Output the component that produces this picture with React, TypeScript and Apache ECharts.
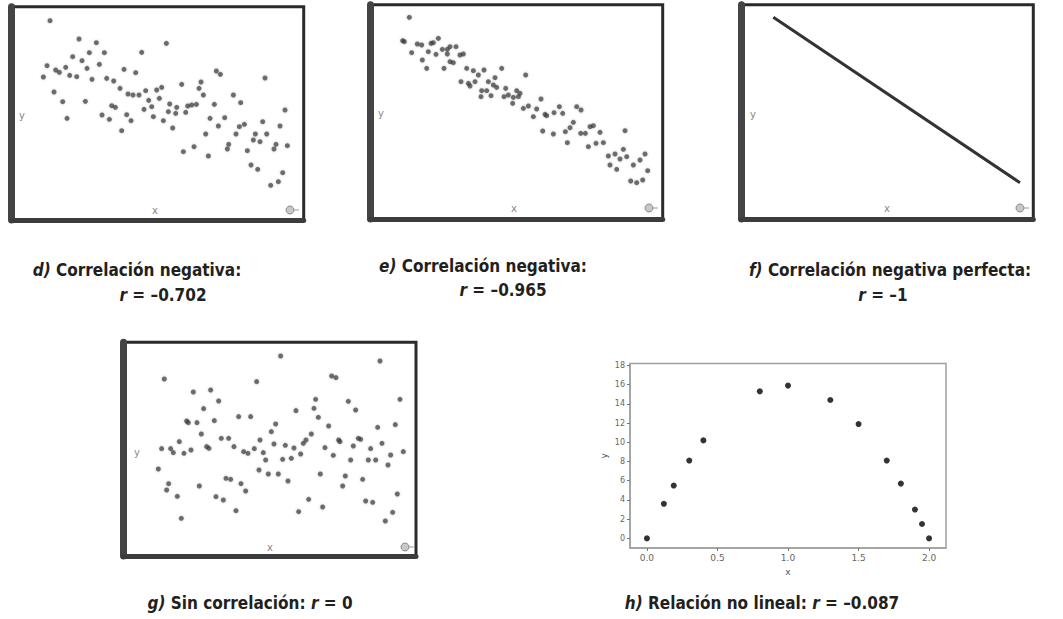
import React, { useEffect, useRef } from "react";
import * as echarts from "echarts";

// ---- Data (arbitrary units) ----
const dX = [15.0, 23.7, 28.9, 49.9, 42.5, 26.8, 31.3, 21.8, 24.6, 14.1, 19.7, 29.8, 26.1, 16.7, 17.8, 37.2, 40.7, 13.0, 20.9, 23.0, 27.6, 32.0, 34.1, 64.9, 66.1, 60.3, 54.5, 79.5, 16.2, 36.0, 38.4, 39.9, 41.7, 43.7, 47.0, 48.5, 59.7, 61.0, 18.8, 25.6, 44.6, 47.8, 33.5, 34.6, 43.2, 45.5, 50.9, 53.0, 56.3, 57.5, 58.9, 64.3, 70.0, 72.2, 50.5, 52.7, 55.7, 30.6, 38.0, 20.1, 32.8, 39.3, 46.0, 49.0, 63.0, 67.4, 78.8, 85.5, 36.5, 51.8, 65.5, 71.8, 73.3, 84.0, 61.7, 70.8, 76.6, 80.0, 76.0, 78.0, 68.6, 82.8, 86.2, 58.2, 55.0, 62.5, 68.2, 74.2, 82.2, 75.3, 77.3, 84.8, 83.5, 81.2];
const dY = [63.8, 58.3, 57.2, 57.0, 54.3, 54.2, 54.2, 53.0, 51.8, 50.3, 49.8, 50.7, 49.5, 49.0, 48.3, 49.2, 48.2, 46.9, 47.4, 47.0, 46.2, 46.5, 45.7, 48.7, 47.7, 45.4, 44.7, 46.6, 42.4, 43.5, 41.8, 41.5, 41.5, 42.8, 43.0, 43.8, 43.5, 41.5, 39.5, 39.6, 39.9, 40.5, 38.3, 37.8, 37.2, 38.0, 38.8, 37.8, 38.2, 38.5, 38.7, 38.7, 41.5, 39.2, 36.5, 36.0, 36.3, 35.5, 35.6, 34.5, 34.2, 33.8, 35.0, 33.8, 34.5, 34.7, 33.5, 37.0, 30.8, 31.6, 32.2, 32.0, 32.7, 32.2, 29.8, 29.8, 29.8, 29.8, 28.0, 27.5, 26.7, 26.7, 26.3, 26.0, 24.5, 23.2, 25.3, 24.8, 25.3, 20.5, 19.2, 18.2, 15.5, 14.4];

const eX = [14.8, 12.8, 13.3, 17.2, 18.5, 21.3, 22.0, 23.5, 24.7, 26.2, 27.0, 28.8, 15.5, 20.5, 22.8, 26.2, 30.0, 31.0, 18.7, 27.0, 28.0, 20.0, 25.2, 32.0, 34.0, 35.5, 37.2, 42.5, 49.7, 30.3, 32.5, 34.5, 38.5, 40.0, 41.0, 43.7, 40.5, 33.0, 36.5, 38.0, 47.0, 48.0, 44.5, 43.2, 46.0, 36.3, 39.3, 47.5, 45.8, 49.0, 50.5, 53.0, 54.3, 52.0, 55.5, 56.0, 58.2, 59.8, 60.8, 65.0, 66.3, 54.8, 58.0, 61.6, 63.0, 64.0, 66.2, 67.6, 69.0, 70.0, 72.0, 62.2, 68.5, 70.8, 73.0, 79.5, 74.5, 76.5, 79.0, 80.0, 85.5, 78.0, 75.0, 77.0, 82.0, 84.0, 86.3, 81.2, 83.0, 84.8];
const eY = [64.8, 57.8, 57.5, 56.8, 56.5, 57.0, 57.2, 58.5, 55.2, 55.2, 56.0, 56.0, 54.2, 54.5, 53.7, 53.8, 53.5, 53.8, 52.0, 51.5, 51.2, 49.5, 49.5, 49.5, 48.8, 47.5, 49.0, 49.5, 47.5, 45.5, 45.0, 45.5, 45.5, 44.5, 43.8, 43.5, 46.7, 44.2, 42.8, 42.8, 42.8, 42.0, 41.5, 41.0, 40.8, 41.0, 41.3, 41.0, 39.0, 37.5, 38.2, 37.3, 40.3, 35.0, 35.7, 35.3, 36.2, 38.0, 36.0, 38.0, 37.0, 30.7, 29.8, 30.5, 31.7, 33.3, 30.0, 30.0, 32.0, 32.3, 30.3, 27.2, 26.0, 27.0, 27.2, 30.8, 23.2, 23.8, 25.2, 23.0, 23.8, 22.3, 20.5, 19.2, 20.5, 22.0, 18.8, 15.7, 15.2, 16.0];

const fX = [13.0, 87.0];
const fY = [64.8, 15.2];

const gX = [51.2, 81.0, 16.3, 44.0, 66.5, 67.8, 25.0, 30.2, 32.6, 28.1, 61.7, 61.2, 71.5, 73.7, 87.0, 55.8, 62.5, 23.0, 23.5, 26.1, 31.3, 38.6, 42.2, 49.7, 48.4, 65.6, 80.3, 85.6, 27.4, 60.4, 20.8, 33.4, 35.6, 37.2, 45.0, 49.2, 52.6, 55.2, 58.0, 58.8, 68.6, 69.0, 74.5, 75.2, 73.0, 78.2, 81.6, 15.5, 18.2, 19.0, 22.2, 24.3, 29.0, 29.7, 40.1, 41.4, 43.3, 46.0, 46.7, 51.8, 54.4, 57.2, 64.5, 67.0, 72.2, 77.5, 79.7, 84.2, 88.0, 83.4, 14.5, 44.7, 47.5, 50.5, 53.4, 63.1, 70.6, 69.8, 75.8, 17.6, 17.0, 26.8, 34.8, 36.2, 39.3, 40.7, 31.8, 34.0, 20.2, 59.6, 76.7, 78.8, 86.2, 37.8, 56.6, 63.8, 84.8, 82.6, 21.4];
const gY = [66.2, 64.7, 59.3, 58.5, 60.2, 59.7, 55.4, 56.0, 52.7, 50.4, 53.2, 50.5, 52.6, 50.0, 53.2, 49.8, 47.8, 46.7, 46.2, 46.2, 46.8, 48.0, 48.0, 45.8, 43.5, 45.2, 44.8, 45.6, 42.8, 42.8, 40.5, 41.5, 41.5, 39.0, 41.0, 39.8, 39.4, 38.6, 40.0, 41.0, 41.0, 40.5, 41.5, 41.2, 39.2, 38.4, 40.0, 38.4, 38.4, 37.2, 37.0, 38.0, 39.0, 38.5, 37.5, 37.0, 38.4, 37.2, 35.0, 35.2, 35.5, 36.8, 38.7, 36.4, 35.0, 35.0, 35.0, 36.5, 37.5, 33.5, 32.3, 32.0, 30.8, 30.8, 28.7, 30.8, 30.2, 27.2, 29.2, 27.9, 26.0, 27.2, 29.5, 29.2, 27.9, 25.7, 24.0, 23.0, 24.1, 23.2, 22.7, 22.3, 24.8, 19.8, 19.5, 20.9, 19.3, 16.7, 17.5];

const hX = [0.0, 0.12, 0.19, 0.3, 0.4, 0.8, 1.0, 1.3, 1.5, 1.7, 1.8, 1.9, 1.95, 2.0];
const hY = [0.0, 3.6, 5.5, 8.1, 10.2, 15.3, 15.9, 14.4, 11.9, 8.1, 5.7, 3.0, 1.5, 0.0];
const hXTicks = [0, 0.5, 1, 1.5, 2];
const hYTicks = [0, 2, 4, 6, 8, 10, 12, 14, 16, 18];

const captionTitles = ["Correlación negativa:", "Correlación negativa:", "Correlación negativa perfecta:"];
const captionLetters = ["d)", "e)", "f)", "g)", "h)"];
const captionR = ["= –0.702", "= –0.965", "= –1", "= 0", "= –0.087"];
const captionBottom = ["Sin correlación:", "Relación no lineal:"];

const zip = (xs: number[], ys: number[]) => xs.map((x, i) => [x, ys[i]]);

// layout of the four "screenshot" panels (d, e, f, g)
const frames = [
  { left: 11.7, top: 6.7, width: 292, height: 213.3, xMin: 3.5, xMax: 91.1, yMin: 4, yMax: 68 },
  { left: 370, top: 4.7, width: 292.7, height: 214.3, xMin: 3.0, xMax: 90.8, yMin: 4.3, yMax: 68.6 },
  { left: 741, top: 4.7, width: 292.3, height: 214.3, xMin: 3.3, xMax: 91.0, yMin: 4.3, yMax: 68.6 },
  { left: 123.3, top: 342.3, width: 292.7, height: 213.7, xMin: 4.0, xMax: 91.8, yMin: 6.2, yMax: 70.3 },
];
const decor = [
  { yl: [22, 115], xl: [155, 210], c: [290, 210] },
  { yl: [381, 113], xl: [514, 208], c: [649, 208] },
  { yl: [753, 114], xl: [887, 208], c: [1020, 208] },
  { yl: [137, 452], xl: [270, 547], c: [405, 547] },
];

const FONT = "'Liberation Sans Narrow', 'DejaVu Sans Condensed', 'Noto Sans', sans-serif";

export default function App() {
  const ref = useRef<HTMLDivElement>(null);
  useEffect(() => {
    if (!ref.current) return;
    const chart = echarts.init(ref.current, undefined, { renderer: "svg" });

    const grids: any[] = [];
    const xAxes: any[] = [];
    const yAxes: any[] = [];
    const series: any[] = [];

    frames.forEach((f, i) => {
      grids.push({
        left: f.left, top: f.top, width: f.width, height: f.height,
        show: true, borderColor: "#2a2a2a", borderWidth: 3, backgroundColor: "#fff",
      });
      xAxes.push({
        gridIndex: i, type: "value", min: f.xMin, max: f.xMax,
        axisLine: { show: true, onZero: false, lineStyle: { color: "#3c3c3c", width: 5 } },
        axisTick: { show: false }, axisLabel: { show: false }, splitLine: { show: false },
      });
      yAxes.push({
        gridIndex: i, type: "value", min: f.yMin, max: f.yMax,
        axisLine: { show: true, onZero: false, lineStyle: { color: "#444", width: 7 } },
        axisTick: { show: false }, axisLabel: { show: false }, splitLine: { show: false },
      });
    });

    const dotStyle = { color: "rgba(55,55,55,0.85)", shadowBlur: 2, shadowColor: "rgba(0,0,0,0.35)" };
    series.push({ type: "scatter", xAxisIndex: 0, yAxisIndex: 0, data: zip(dX, dY), symbolSize: 5, itemStyle: dotStyle });
    series.push({ type: "scatter", xAxisIndex: 1, yAxisIndex: 1, data: zip(eX, eY), symbolSize: 5, itemStyle: dotStyle });
    series.push({
      type: "line", xAxisIndex: 2, yAxisIndex: 2, data: zip(fX, fY), symbol: "none",
      lineStyle: { color: "#333", width: 3 },
    });
    series.push({ type: "scatter", xAxisIndex: 3, yAxisIndex: 3, data: zip(gX, gY), symbolSize: 5, itemStyle: dotStyle });

    // h panel (matplotlib-like)
    grids.push({
      left: 630, top: 363.5, width: 316, height: 184.5,
      show: true, borderColor: "#a0a0a0", borderWidth: 1.5, backgroundColor: "#fff",
    });
    xAxes.push({
      gridIndex: 4, type: "value", min: -0.12, max: 2.12,
      name: "x", nameLocation: "middle", nameGap: 19,
      nameTextStyle: { color: "#555", fontSize: 9, fontFamily: "'DejaVu Sans', sans-serif" },
      axisLine: { show: true, onZero: false, lineStyle: { color: "#a0a0a0", width: 1.5 } },
      axisTick: { show: true, customValues: hXTicks, length: 3, lineStyle: { color: "#777" } },
      axisLabel: {
        customValues: hXTicks, color: "#666", fontSize: 9, margin: 5,
        fontFamily: "'DejaVu Sans', sans-serif", formatter: (v: number) => v.toFixed(1),
      },
      splitLine: { show: false },
    });
    yAxes.push({
      gridIndex: 4, type: "value", min: -1, max: 18.2,
      name: "y", nameLocation: "middle", nameGap: 22,
      nameTextStyle: { color: "#555", fontSize: 9, fontFamily: "'DejaVu Sans', sans-serif" },
      axisLine: { show: true, onZero: false, lineStyle: { color: "#a0a0a0", width: 1.5 } },
      axisTick: { show: true, customValues: hYTicks, length: 3, lineStyle: { color: "#777" } },
      axisLabel: {
        customValues: hYTicks, color: "#666", fontSize: 8, margin: 5,
        fontFamily: "'DejaVu Sans', sans-serif",
      },
      splitLine: { show: false },
    });
    series.push({
      type: "scatter", xAxisIndex: 4, yAxisIndex: 4, data: zip(hX, hY), symbolSize: 6,
      itemStyle: { color: "#000" },
    });

    // Decorations of the screenshot panels
    const graphic: any[] = [];
    decor.forEach((d) => {
      graphic.push({
        type: "text", x: d.yl[0], y: d.yl[1],
        style: { text: "y", fill: "#888", fontSize: 10, fontFamily: "'DejaVu Sans', sans-serif", align: "center", verticalAlign: "middle" },
      });
      graphic.push({
        type: "text", x: d.xl[0], y: d.xl[1],
        style: { text: "x", fill: "#888", fontSize: 10, fontFamily: "'DejaVu Sans', sans-serif", align: "center", verticalAlign: "middle" },
      });
      graphic.push({
        type: "circle", shape: { cx: d.c[0], cy: d.c[1], r: 4 },
        style: { fill: "#c8c8c8", stroke: "#8a8a8a", lineWidth: 1 },
      });
      graphic.push({
        type: "line", shape: { x1: d.c[0] + 4, y1: d.c[1], x2: d.c[0] + 9, y2: d.c[1] },
        style: { stroke: "#9a9a9a", lineWidth: 1 },
      });
    });

    const rich = {
      i: { fontStyle: "italic", fontWeight: "bold", fontSize: 17, fontFamily: FONT, fill: "#231f20", color: "#231f20" },
      b: { fontStyle: "normal", fontWeight: "bold", fontSize: 17, fontFamily: FONT, fill: "#231f20", color: "#231f20" },
    };
    const cap = (x: number, y: number, text: string) => ({
      type: "text", x, y,
      style: {
        text, rich, fontSize: 17, fontWeight: "bold", fontFamily: FONT, fill: "#231f20",
        align: "center", verticalAlign: "middle",
      },
    });
    graphic.push(cap(137, 270, `{i|${captionLetters[0]}} {b|${captionTitles[0]}}`));
    graphic.push(cap(163, 295, `{i|r} {b|${captionR[0]}}`));
    graphic.push(cap(483, 266, `{i|${captionLetters[1]}} {b|${captionTitles[1]}}`));
    graphic.push(cap(503, 290, `{i|r} {b|${captionR[1]}}`));
    graphic.push(cap(890, 270, `{i|${captionLetters[2]}} {b|${captionTitles[2]}}`));
    graphic.push(cap(883, 295, `{i|r} {b|${captionR[2]}}`));
    graphic.push(cap(250, 603, `{i|${captionLetters[3]}} {b|${captionBottom[0]}} {i|r} {b|${captionR[3]}}`));
    graphic.push(cap(762, 603, `{i|${captionLetters[4]}} {b|${captionBottom[1]}} {i|r} {b|${captionR[4]}}`));

    chart.setOption({
      animation: false,
      backgroundColor: "#fff",
      grid: grids,
      xAxis: xAxes,
      yAxis: yAxes,
      series,
      graphic,
    });
    return () => chart.dispose();
  }, []);

  return (
    <div
      ref={ref}
      style={{ position: "fixed", left: 0, top: 0, width: 1063, height: 619, background: "#fff" }}
    />
  );
}
